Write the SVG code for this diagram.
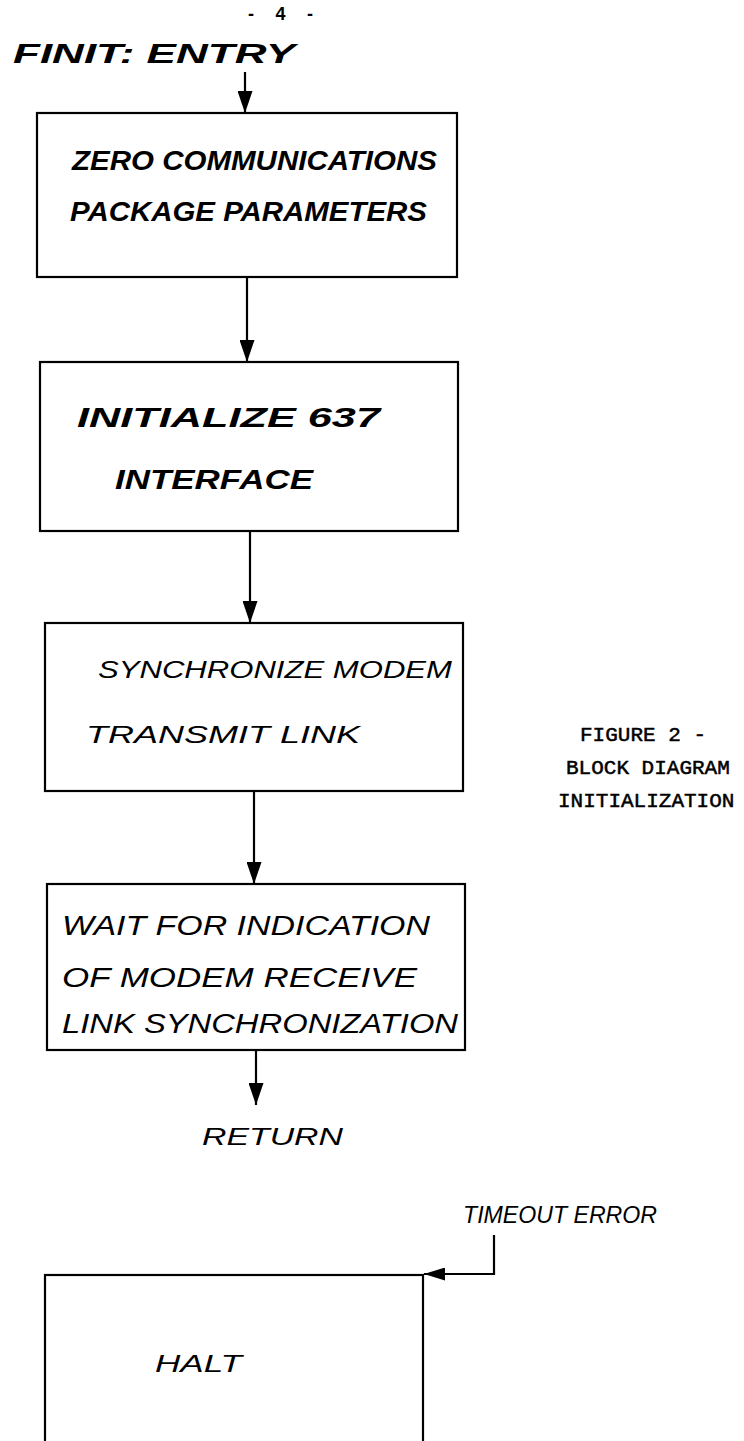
<svg xmlns="http://www.w3.org/2000/svg" width="744" height="1441" viewBox="0 0 744 1441">
<style>
.box{fill:none;stroke:#000;stroke-width:2.2}
.hw{font-family:"Liberation Sans","DejaVu Sans",sans-serif;font-style:italic;fill:#000;font-size:27px}
.thin{font-weight:normal;font-size:24px}
.bold{font-weight:bold}
.ty{font-family:"Liberation Mono","DejaVu Sans Mono",monospace;font-size:21px;fill:#000;stroke:#000;stroke-width:0.5}
.con{fill:none;stroke:#000;stroke-width:2.2}
</style>
<defs>
<marker id="ah" markerUnits="userSpaceOnUse" viewBox="0 0 22 15" refX="22" refY="7.5" markerWidth="22" markerHeight="15" orient="auto">
<path d="M0,0 L22,7.5 L0,15 z" fill="#000"/>
</marker>
<marker id="ahs" markerUnits="userSpaceOnUse" viewBox="0 0 21 13" refX="21" refY="6.5" markerWidth="21" markerHeight="13" orient="auto">
<path d="M0,0 L21,6.5 L0,13 z" fill="#000"/>
</marker>
</defs>

<text x="248" y="20" font-family="Liberation Sans, sans-serif" font-size="18" font-weight="bold" textLength="65" lengthAdjust="spacing">- 4 -</text>

<g id="entry">
<text class="hw bold" x="13" y="63" font-size="30" textLength="282" lengthAdjust="spacingAndGlyphs">FINIT: ENTRY</text>
</g>

<g id="zero">
<rect class="box" x="37" y="113" width="420" height="164"/>
<text class="hw bold" x="72" y="170" textLength="365" lengthAdjust="spacingAndGlyphs">ZERO COMMUNICATIONS</text>
<text class="hw bold" x="70" y="221" textLength="357" lengthAdjust="spacingAndGlyphs">PACKAGE PARAMETERS</text>
</g>

<g id="init637">
<rect class="box" x="40" y="362" width="418" height="169"/>
<text class="hw bold" x="77" y="427" textLength="303" lengthAdjust="spacingAndGlyphs">INITIALIZE 637</text>
<text class="hw bold" x="115" y="489" textLength="198" lengthAdjust="spacingAndGlyphs">INTERFACE</text>
</g>

<g id="sync">
<rect class="box" x="45" y="623" width="418" height="168"/>
<text class="hw thin" x="98" y="678" textLength="354" lengthAdjust="spacingAndGlyphs">SYNCHRONIZE MODEM</text>
<text class="hw thin" x="86" y="743" textLength="274" lengthAdjust="spacingAndGlyphs">TRANSMIT LINK</text>
</g>

<g id="wait">
<rect class="box" x="47" y="884" width="418" height="166"/>
<text class="hw" x="62" y="935" textLength="368" lengthAdjust="spacingAndGlyphs">WAIT FOR INDICATION</text>
<text class="hw" x="62" y="987" textLength="355" lengthAdjust="spacingAndGlyphs">OF MODEM RECEIVE</text>
<text class="hw" x="62" y="1033" textLength="396" lengthAdjust="spacingAndGlyphs">LINK SYNCHRONIZATION</text>
</g>

<g id="return">
<text class="hw thin" x="202" y="1145" font-size="27" textLength="141" lengthAdjust="spacingAndGlyphs">RETURN</text>
</g>

<g id="timeout">
<text class="hw thin" x="463" y="1223" font-size="21" textLength="194" lengthAdjust="spacingAndGlyphs">TIMEOUT ERROR</text>
</g>

<g id="halt">
<rect class="box" x="45" y="1275" width="378" height="200"/>
<text class="hw thin" x="155" y="1372" font-size="27" textLength="87" lengthAdjust="spacingAndGlyphs">HALT</text>
</g>

<g id="caption">
<text class="ty" x="580" y="741">FIGURE 2 -</text>
<text class="ty" x="566" y="774">BLOCK DIAGRAM</text>
<text class="ty" x="558" y="807">INITIALIZATION</text>
</g>

<g id="connectors">
<line class="con" x1="245" y1="72" x2="245" y2="113" marker-end="url(#ah)"/>
<line class="con" x1="247" y1="277" x2="247" y2="362" marker-end="url(#ah)"/>
<line class="con" x1="250" y1="531" x2="250" y2="623" marker-end="url(#ah)"/>
<line class="con" x1="254" y1="791" x2="254" y2="884" marker-end="url(#ah)"/>
<line class="con" x1="256" y1="1050" x2="256" y2="1105" marker-end="url(#ah)"/>
<path class="con" d="M494,1235 V1274 H424" marker-end="url(#ahs)"/>
</g>
</svg>
